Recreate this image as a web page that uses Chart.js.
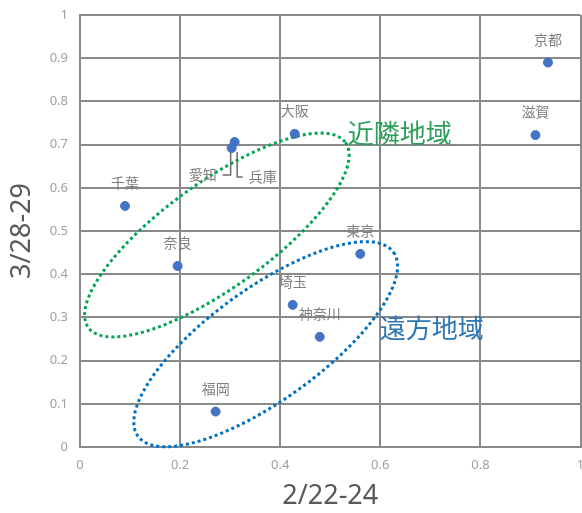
<!DOCTYPE html>
<html>
<head>
<meta charset="utf-8">
<script src="https://cdn.jsdelivr.net/npm/chart.js@4/dist/chart.umd.min.js"></script>
<style>
  html, body { margin: 0; padding: 0; overflow: hidden; background: #fff; }
  #wrap { width: 586px; height: 513px; position: relative; }
</style>
</head>
<body>
<div id="wrap"><canvas id="c"></canvas></div>
<script>
// Prefectures and their two period values
const prefectures = ['京都', '滋賀', '大阪', '兵庫', '愛知', '千葉', '奈良', '東京', '埼玉', '神奈川', '福岡'];
const feb22to24  = [0.935, 0.910, 0.429, 0.309, 0.303, 0.090, 0.195, 0.560, 0.425, 0.479, 0.271];
const mar28to29  = [0.890, 0.722, 0.725, 0.706, 0.692, 0.558, 0.419, 0.447, 0.329, 0.255, 0.082];

// Axis ticks and titles
const xTicks = [0, 0.2, 0.4, 0.6, 0.8, 1];
const yTicks = [0, 0.1, 0.2, 0.3, 0.4, 0.5, 0.6, 0.7, 0.8, 0.9, 1];
const xTitle = '2/22-24';
const yTitle = '3/28-29';

// Region groupings
const regionNames = ['近隣地域', '遠方地域'];

// Region outlines: dotted ellipses given in data units (center, two conjugate semi-axes)
const regionShapes = [
  { center: [0.2735, 0.4907], major: [0.257, 0.214], minor: [0.0615, -0.0993],
    color: '#00a651', textColor: '#2e9e5b', textAt: [0.535, 0.727] },
  { center: [0.371, 0.238], major: [0.2553, 0.2127], minor: [0.0652, -0.1053],
    color: '#0070c0', textColor: '#2e75b6', textAt: [0.599, 0.275] }
];

// Point label placement (pixel offsets from the point); default is centred above
const labelStyle = {
  font: '14px "Noto Sans CJK JP", "Noto Sans", sans-serif',
  color: '#7f7f7f',
  defaultDy: -23,
  special: {
    '愛知': { dx: -29, dy: 27, leader: 'right', tipDx: -1, tipGap: 4 },
    '兵庫': { dx: 28, dy: 35, leader: 'left', tipDx: 2.5, tipGap: 10 }
  }
};

const points = prefectures.map((name, i) => ({ x: feb22to24[i], y: mar28to29[i], name }));

const regionPlugin = {
  id: 'regions',
  beforeDatasetsDraw(chart) {
    const { ctx, scales: { x, y } } = chart;
    ctx.save();
    regionShapes.forEach((r) => {
      ctx.beginPath();
      const n = 240;
      for (let k = 0; k <= n; k++) {
        const t = (k / n) * Math.PI * 2;
        const dxv = r.center[0] + Math.cos(t) * r.major[0] + Math.sin(t) * r.minor[0];
        const dyv = r.center[1] + Math.cos(t) * r.major[1] + Math.sin(t) * r.minor[1];
        const px = x.getPixelForValue(dxv);
        const py = y.getPixelForValue(dyv);
        if (k === 0) ctx.moveTo(px, py); else ctx.lineTo(px, py);
      }
      ctx.closePath();
      ctx.strokeStyle = r.color;
      ctx.lineWidth = 3;
      ctx.setLineDash([3, 3]);
      ctx.stroke();
    });
    ctx.restore();
  },
  afterDatasetsDraw(chart) {
    const { ctx, scales: { x, y } } = chart;
    ctx.save();
    // region names
    ctx.font = '26px "Noto Sans CJK JP", sans-serif';
    ctx.textBaseline = 'middle';
    ctx.textAlign = 'left';
    regionShapes.forEach((r, i) => {
      ctx.fillStyle = r.textColor;
      ctx.fillText(regionNames[i], x.getPixelForValue(r.textAt[0]), y.getPixelForValue(r.textAt[1]));
    });

    // point labels
    ctx.font = labelStyle.font;
    ctx.textAlign = 'center';
    ctx.textBaseline = 'middle';
    const meta = chart.getDatasetMeta(0);
    meta.data.forEach((el, i) => {
      const name = prefectures[i];
      const sp = labelStyle.special[name];
      const lx = el.x + (sp ? sp.dx : 0);
      const ly = el.y + (sp ? sp.dy : labelStyle.defaultDy);
      ctx.fillStyle = labelStyle.color;
      ctx.fillText(name, lx, ly);
      if (sp && sp.leader) {
        const w = ctx.measureText(name).width;
        const startX = sp.leader === 'right' ? lx + w / 2 + 6 : lx - w / 2 - 6;
        const tipX = el.x + sp.tipDx;
        ctx.beginPath();
        ctx.moveTo(startX, ly);
        ctx.lineTo(tipX, ly);
        ctx.lineTo(tipX, el.y + sp.tipGap);
        ctx.strokeStyle = '#6b6b6b';
        ctx.lineWidth = 1.5;
        ctx.stroke();
      }
    });
    ctx.restore();
  }
};

const gridColor = '#8a8a8a';
const tickFont = { family: '"Noto Sans", sans-serif', size: 13 };
const titleFont = { family: '"Noto Sans", sans-serif', size: 27 };

new Chart(document.getElementById('c'), {
  type: 'scatter',
  data: {
    datasets: [{
      data: points,
      backgroundColor: '#4472c4',
      borderColor: '#4472c4',
      pointRadius: 4.5,
      pointHoverRadius: 4.5
    }]
  },
  options: {
    responsive: true,
    maintainAspectRatio: false,
    animation: false,
    layout: { padding: { top: 15, right: 5, bottom: 0, left: 0 } },
    plugins: { legend: { display: false }, tooltip: { enabled: false } },
    scales: {
      x: {
        type: 'linear', min: 0, max: 1,
        afterBuildTicks: (s) => { s.ticks = xTicks.map(v => ({ value: v })); },
        afterFit: (s) => { s.height = 66; },
        ticks: { color: '#a0a0a0', font: tickFont, padding: 0, maxRotation: 0,
                 callback: (v) => String(v) },
        grid: { color: gridColor, lineWidth: 2, drawTicks: true, tickLength: 10,
                tickColor: 'rgba(0,0,0,0)' },
        border: { color: gridColor, width: 2 },
        title: { display: true, text: xTitle, color: '#595959', font: titleFont,
                 padding: { top: 0, bottom: 0 } }
      },
      y: {
        type: 'linear', min: 0, max: 1,
        afterBuildTicks: (s) => { s.ticks = yTicks.map(v => ({ value: v })); },
        afterFit: (s) => { s.width = 80; },
        ticks: { color: '#a0a0a0', font: tickFont, padding: 0,
                 callback: (v) => String(v) },
        grid: { color: gridColor, lineWidth: 2, drawTicks: true, tickLength: 12,
                tickColor: 'rgba(0,0,0,0)' },
        border: { color: gridColor, width: 2 },
        title: { display: true, text: yTitle, color: '#595959', font: titleFont,
                 padding: { top: 6, bottom: 0 } }
      }
    }
  },
  plugins: [regionPlugin]
});
</script>
</body>
</html>
